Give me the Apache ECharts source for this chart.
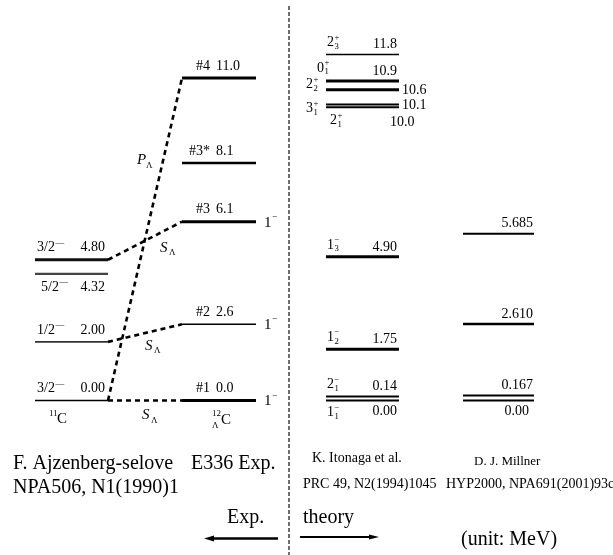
<!DOCTYPE html>
<html><head><meta charset="utf-8">
<script src="https://cdn.jsdelivr.net/npm/echarts@6/dist/echarts.min.js"></script>
<style>html,body{margin:0;padding:0;background:#fff}#c{width:613px;height:555px}</style>
</head><body><div id="c"></div>
<script>
// ---- 11C levels (F. Ajzenberg-Selove) ----
const c11Energy = [0.00, 2.00, 4.32, 4.80];
const c11Value = ['0.00', '2.00', '4.32', '4.80'];
const c11Spin = ['3/2', '1/2', '5/2', '3/2'];
// ---- 12ΛC levels (E336 Exp.) ----
const lcEnergy = [0.0, 2.6, 6.1, 8.1, 11.0];
const lcValue = ['0.0', '2.6', '6.1', '8.1', '11.0'];
const lcName = ['#1', '#2', '#3', '#3*', '#4'];
const lcJ = ['1', '1', '1', '', ''];
// ---- couplings 11C level -> 12ΛC level ----
const linkFrom = [0, 1, 3, 0];
const linkTo = [0, 1, 2, 4];
const linkLabel = ['S', 'S', 'S', 'P'];
// ---- K. Itonaga et al. ----
const itoEnergy = [0.00, 0.14, 1.75, 4.90, 10.0, 10.1, 10.6, 10.9, 11.8];
const itoValue = ['0.00', '0.14', '1.75', '4.90', '10.0', '10.1', '10.6', '10.9', '11.8'];
const itoJ = ['1', '2', '1', '1', '2', '3', '2', '0', '2'];
const itoIdx = ['1', '1', '2', '3', '1', '1', '2', '1', '3'];
const itoParity = ['−', '−', '−', '−', '+', '+', '+', '+', '+'];
// ---- D. J. Millner ----
const milEnergy = [0.00, 0.167, 2.610, 5.685];
const milValue = ['0.00', '0.167', '2.610', '5.685'];

// ---- styling (not data) ----
const c11Width = [1.3, 1.6, 2.2, 3];
const c11Color = ['#000', '#333', '#444', '#111'];
const c11Place = ['above', 'above', 'below', 'above'];
const lcWidth = [3, 1.5, 3, 2.6, 3];
const linkDx = [-3, 0, 15, -8];
const linkDy = [15, 13, 7, 0];
const itoWidth = [2, 2, 3, 3, 2, 2, 3, 3, 1.5];
const itoPlace = ['below', 'above', 'above', 'above', 'under2', 'right3', 'right2', 'above0', 'above'];
const milWidth = [2, 2, 2.5, 2];
const milPlace = ['below', 'above', 'above', 'above'];

const FONT = '"Liberation Serif", "Times New Roman", serif';
const mctx = document.createElement('canvas').getContext('2d');
function tw(t, s) { mctx.font = s + 'px ' + FONT; return mctx.measureText(t).width; }
function txt(t, x, y, s, align, extra) {
  return { type: 'text', x: x, y: y, silent: true,
    style: { text: t, font: (extra || '') + s + 'px ' + FONT, fill: '#000',
      align: align || 'left', verticalAlign: 'middle' } };
}
// base with stacked sub/sup on the right
function sj(base, sub, sup, x, y, s) {
  const els = [txt(base, x, y, s)];
  const w = tw(base, s);
  if (sup) els.push(txt(sup, x + w + 0.5, y - s * 0.36, s * 0.62));
  if (sub) els.push(txt(sub, x + w + 0.5, y + s * 0.3, s * 0.62));
  return els;
}
function hline(p0, p1, w, c) {
  return { type: 'line', silent: true, shape: { x1: p0[0], y1: p0[1], x2: p1[0], y2: p1[1] },
    style: { stroke: c || '#000', lineWidth: w, lineCap: 'butt' } };
}

// column extents (layout, in x-axis pixel units)
const COL = { c11: [35, 108], lc: [182, 256], ito: [326, 399], mil: [463, 534] };

const chart = echarts.init(document.getElementById('c'), null, { renderer: 'canvas' });

const series = [];
// 11C
series.push({
  type: 'custom', coordinateSystem: 'cartesian2d', clip: false,
  data: c11Energy.map((e, i) => [i, e]), encode: { x: 0, y: 1 },
  renderItem: function (p, api) {
    const i = p.dataIndex, e = api.value(1);
    const a = api.coord([COL.c11[0], e]), b = api.coord([COL.c11[1], e]);
    const y = c11Place[i] === 'below' ? a[1] + 13 : a[1] - 12;
    const ch = [hline(a, b, c11Width[i], c11Color[i])];
    const sx = c11Place[i] === 'below' ? a[0] + 6 : a[0] + 2;
    ch.push(...sj(c11Spin[i], null, '—', sx, y, 14));
    ch.push(txt(c11Value[i], b[0] - 3, y, 14, 'right'));
    return { type: 'group', children: ch };
  }
});
// 12ΛC
series.push({
  type: 'custom', coordinateSystem: 'cartesian2d', clip: false,
  data: lcEnergy.map((e, i) => [i, e]), encode: { x: 0, y: 1 },
  renderItem: function (p, api) {
    const i = p.dataIndex, e = api.value(1);
    const a = api.coord([COL.lc[0], e]), b = api.coord([COL.lc[1], e]);
    const ch = [hline(a, b, lcWidth[i])];
    ch.push(txt(lcName[i], a[0] + 28, a[1] - 12, 14, 'right'));
    ch.push(txt(lcValue[i], a[0] + 34, a[1] - 12, 14, 'left'));
    if (lcJ[i]) ch.push(...sj(lcJ[i], null, '−', b[0] + 8, a[1] + 1, 15));
    return { type: 'group', children: ch };
  }
});
// couplings
series.push({
  type: 'custom', coordinateSystem: 'cartesian2d', clip: false,
  data: linkFrom.map((f, i) => [i, c11Energy[f], lcEnergy[linkTo[i]]]), encode: { x: 0, y: 1 },
  renderItem: function (p, api) {
    const i = p.dataIndex;
    const a = api.coord([COL.c11[1], api.value(1)]), b = api.coord([COL.lc[0], api.value(2)]);
    const line = { type: 'line', silent: true, shape: { x1: a[0], y1: a[1], x2: b[0], y2: b[1] },
      style: { stroke: '#000', lineWidth: 2.6, lineDash: [5, 4] } };
    let lx = (a[0] + b[0]) / 2 + linkDx[i], ly;
    if (linkLabel[i] === 'P') ly = a[1] + (b[1] - a[1]) * 0.745 + linkDy[i];
    else ly = (a[1] + b[1]) / 2 + linkDy[i];
    const ch = [line, txt(linkLabel[i], lx, ly, 15, 'left', 'italic ')];
    ch.push(txt('Λ', lx + 9, ly + 5, 9));
    return { type: 'group', children: ch };
  }
});
// Itonaga
series.push({
  type: 'custom', coordinateSystem: 'cartesian2d', clip: false,
  data: itoEnergy.map((e, i) => [i, e]), encode: { x: 0, y: 1 },
  renderItem: function (p, api) {
    const i = p.dataIndex, e = api.value(1);
    const a = api.coord([COL.ito[0], e]), b = api.coord([COL.ito[1], e]);
    const ch = [hline(a, b, itoWidth[i])];
    const pl = itoPlace[i];
    let sx, sy, vx, vy, va;
    if (pl === 'below') { sx = a[0] + 1; sy = a[1] + 12; vx = b[0] - 2; vy = a[1] + 11; va = 'right'; }
    else if (pl === 'above') { sx = a[0] + 1; sy = a[1] - 12; vx = b[0] - 2; vy = a[1] - 10; va = 'right'; }
    else if (pl === 'under2') { sx = a[0] + 4; sy = a[1] + 13; vx = b[0] - 9; vy = a[1] + 15; va = 'left'; }
    else if (pl === 'right3') { sx = a[0] - 20; sy = a[1] + 4; vx = b[0] + 3; vy = a[1] + 1; va = 'left'; }
    else if (pl === 'right2') { sx = a[0] - 20; sy = a[1] - 5; vx = b[0] + 3; vy = a[1] + 1; va = 'left'; }
    else { sx = a[0] - 9; sy = a[1] - 13; vx = b[0] - 2; vy = a[1] - 10; va = 'right'; }
    ch.push(...sj(itoJ[i], itoIdx[i], itoParity[i], sx, sy, 14));
    ch.push(txt(itoValue[i], vx, vy, 14, va));
    return { type: 'group', children: ch };
  }
});
// Millner
series.push({
  type: 'custom', coordinateSystem: 'cartesian2d', clip: false,
  data: milEnergy.map((e, i) => [i, e]), encode: { x: 0, y: 1 },
  renderItem: function (p, api) {
    const i = p.dataIndex, e = api.value(1);
    const a = api.coord([COL.mil[0], e]), b = api.coord([COL.mil[1], e]);
    const ch = [hline(a, b, milWidth[i])];
    if (milPlace[i] === 'below') ch.push(txt(milValue[i], b[0] - 5, a[1] + 11, 14, 'right'));
    else ch.push(txt(milValue[i], b[0] - 1, a[1] - 10, 14, 'right'));
    return { type: 'group', children: ch };
  }
});

function T(t, x, y, s, extra) {
  return { type: 'text', left: x, top: y - s / 2 - 1, silent: true,
    style: { text: t, font: (extra || '') + s + 'px ' + FONT, fill: '#000' } };
}
const graphic = [
  // divider
  { type: 'line', silent: true, shape: { x1: 289, y1: 6, x2: 289, y2: 555 },
    style: { stroke: '#222', lineWidth: 1.3, lineDash: [4, 2] } },
  // nucleus labels
  T('C', 57, 420, 15), T('11', 49, 415, 9),
  T('C', 221, 421, 15), T('12', 212, 415, 9), T('Λ', 212, 427, 9),
  // references
  T('F. Ajzenberg-selove', 13, 465, 20), T('NPA506, N1(1990)1', 13, 489, 20),
  T('E336 Exp.', 191, 465, 20),
  T('K. Itonaga et al.', 312, 459, 14), T('PRC 49, N2(1994)1045', 303, 485, 14),
  T('D. J. Millner', 474, 463, 13), T('HYP2000, NPA691(2001)93c', 446, 485, 14),
  T('Exp.', 227, 519, 20), T('theory', 303, 519, 20), T('(unit: MeV)', 461, 541, 20),
  // arrows
  { type: 'line', silent: true, shape: { x1: 278, y1: 538.5, x2: 210, y2: 538.5 }, style: { stroke: '#000', lineWidth: 2.4 } },
  { type: 'polygon', silent: true, shape: { points: [[204, 538.5], [214, 535.5], [214, 541.5]] }, style: { fill: '#000' } },
  { type: 'line', silent: true, shape: { x1: 300, y1: 537, x2: 372, y2: 537 }, style: { stroke: '#000', lineWidth: 1.8 } },
  { type: 'polygon', silent: true, shape: { points: [[379, 537], [369, 534.5], [369, 539.5]] }, style: { fill: '#000' } }
];

chart.setOption({
  animation: false,
  backgroundColor: '#fff',
  grid: { left: 0, right: 0, top: 78, bottom: 154.5, containLabel: false },
  xAxis: { type: 'value', min: 0, max: 613, show: false },
  yAxis: { type: 'value', min: 0, max: 11, show: false },
  series: series,
  graphic: graphic
});
</script>
</body></html>
